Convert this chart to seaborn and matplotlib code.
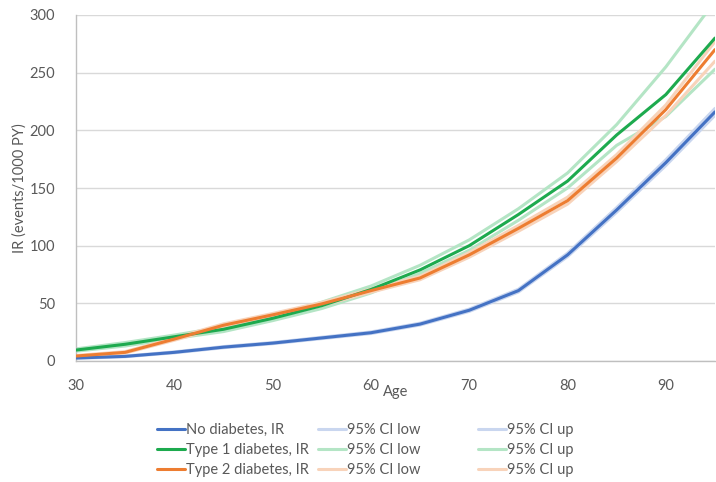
import matplotlib
matplotlib.use("Agg")
import matplotlib.pyplot as plt
import seaborn as sns

# ages and incidence rates (events / 1000 PY)
ages = [30, 35, 40, 45, 50, 55, 60, 65, 70, 75, 80, 85, 90, 95]

no_ir = [2.6, 4, 7.5, 12, 15.5, 20, 24.5, 32, 44, 61, 92, 131, 172, 216]
no_low = [2.3, 3.7, 7.1, 11.5, 15, 19.4, 23.8, 31.2, 43, 59.8, 90.5, 129, 169.5, 213]
no_up = [2.9, 4.3, 7.9, 12.5, 16, 20.6, 25.2, 32.8, 45, 62.2, 93.5, 133, 174.5, 219]

t1_ir = [9.5, 14.5, 21, 27.5, 37, 48, 62, 79, 100, 127, 156, 196, 231, 280]
t1_low = [8.5, 13, 19.5, 25.5, 35, 45.5, 59, 76, 96, 122, 150, 187, 212, 253]
t1_up = [10.5, 16, 22.5, 29.5, 39, 51, 65, 83, 105, 132, 163, 205, 255, 312]

t2_ir = [4.3, 7.5, 19, 31, 40, 49.5, 61, 72, 92, 115, 139, 176, 218, 270]
t2_low = [3.8, 6.9, 18, 29.8, 38.8, 48.2, 59.6, 70.5, 90, 112.5, 136, 173, 213, 260]
t2_up = [4.8, 8.1, 20, 32.2, 41.2, 50.8, 62.4, 73.5, 94, 117.5, 142, 179, 222, 277]

blue, green, orange = "#4472C4", "#1DAA4E", "#ED7D31"
blue_l, green_l, orange_l = "#C9D6EF", "#B4E5C5", "#F8D3BA"

sns.set_style("white")
plt.rcParams["font.family"] = ["Lato", "DejaVu Sans"]
txt = "#595959"
fs = 10.5

fig = plt.figure(figsize=(7.16, 4.82), dpi=100)
ax = fig.add_axes([76 / 716, 1 - 361 / 482, 639 / 716, 346 / 482])

h = {}
for name, ys, col in [("bl", no_low, blue_l), ("bu", no_up, blue_l),
                      ("gl", t1_low, green_l), ("gu", t1_up, green_l),
                      ("ol", t2_low, orange_l), ("ou", t2_up, orange_l)]:
    sns.lineplot(x=ages, y=ys, color=col, lw=2.2, ax=ax, zorder=2)
    h[name] = ax.lines[-1]
for name, ys, col in [("b", no_ir, blue), ("g", t1_ir, green), ("o", t2_ir, orange)]:
    sns.lineplot(x=ages, y=ys, color=col, lw=2.2, ax=ax, zorder=3)
    h[name] = ax.lines[-1]

ax.set_xlim(30, 95)
ax.set_ylim(0, 300)
ax.set_xticks([30, 40, 50, 60, 70, 80, 90])
ax.set_yticks(range(0, 301, 50))
ax.grid(axis="y", color="#D9D9D9", lw=1)
ax.set_axisbelow(True)
for s in ["top", "right"]:
    ax.spines[s].set_visible(False)
for s in ["left", "bottom"]:
    ax.spines[s].set_color("#BFBFBF")
    ax.spines[s].set_linewidth(1)
ax.tick_params(length=0, labelsize=fs, colors=txt)
ax.tick_params(axis="x", pad=13)
ax.tick_params(axis="y", pad=15)
ax.set_xlabel("Age", fontsize=fs, color=txt, labelpad=-6)
ax.set_ylabel("IR (events/1000 PY)", fontsize=fs, color=txt, labelpad=2)

cols = [
    (157, [h["b"], h["g"], h["o"]], ["No diabetes, IR", "Type 1 diabetes, IR", "Type 2 diabetes, IR"]),
    (318, [h["bl"], h["gl"], h["ol"]], ["95% CI low"] * 3),
    (478, [h["bu"], h["gu"], h["ou"]], ["95% CI up"] * 3),
]
for x0, hs, labs in cols:
    leg = fig.legend(hs, labs, loc="upper left", bbox_to_anchor=(x0 / 716, 1 - 423 / 482),
                     frameon=False, fontsize=fs, handlelength=1.9, handletextpad=0.1,
                     labelspacing=0.4, borderpad=0, borderaxespad=0)
    for t in leg.get_texts():
        t.set_color(txt)

fig.savefig("out.png", dpi=100)
